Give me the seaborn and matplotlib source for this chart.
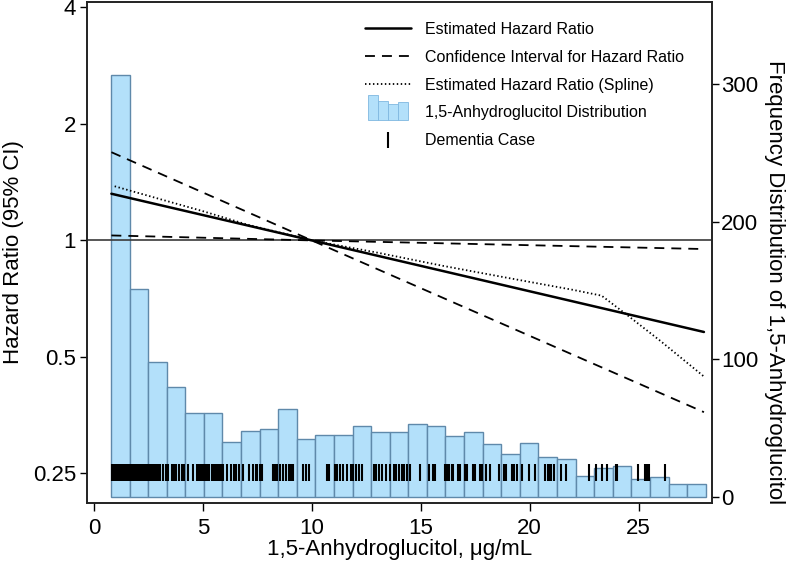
import numpy as np
import pandas as pd
import seaborn as sns
import matplotlib
matplotlib.use("Agg")
import matplotlib.pyplot as plt
from matplotlib.lines import Line2D
from matplotlib.patches import Rectangle
from matplotlib.legend_handler import HandlerBase
from matplotlib.ticker import NullLocator

# histogram of 1,5-AG (32 bins)
bin_lo, bin_hi = 0.78, 28.08
counts = [307, 151, 98, 80, 61, 61, 40, 48, 49, 64, 42, 45, 45, 51, 47, 47,
          53, 51, 44, 47, 38, 31, 39, 29, 27, 15, 21, 22, 13, 14, 9, 9]

# hazard ratio lines (log-linear)
hr_x = [0.8, 10, 28]
hr = [1.32, 1.0, 0.58]
ci_a = [1.69, 1.0, 0.36]
ci_b = [1.03, 1.0, 0.95]

spline_x = [0.95, 3, 5, 7, 10, 13, 16, 19, 22, 23.3, 24.5, 26, 28]
spline_hr = [1.38, 1.28, 1.19, 1.10, 1.0, 0.93, 0.86, 0.80, 0.745, 0.72, 0.64, 0.55, 0.445]

# dementia cases
rug_x = [0.82, 0.87, 0.92, 0.97, 1.02, 1.07, 1.12, 1.17, 1.22, 1.27, 1.32, 1.37, 1.42,
         1.47, 1.52, 1.57, 1.62, 1.67, 1.72, 1.78, 1.84, 1.9, 1.96, 2.02, 2.08, 2.14,
         2.2, 2.26, 2.33, 2.4, 2.47, 2.54, 2.61, 2.68, 2.75, 2.82, 2.9, 2.97, 3.03,
         3.17, 3.3, 3.42, 3.6, 3.68, 3.78, 3.9, 4.05, 4.15, 4.3, 4.55, 4.72, 4.8, 4.88,
         4.98, 5.06, 5.14, 5.22, 5.3, 5.4, 5.47, 5.54, 5.62, 5.7, 5.78, 5.86, 5.93, 6.1,
         6.3, 6.42, 6.5, 6.68, 6.86, 7.1, 7.3, 7.42, 7.5, 7.6, 7.72,
         8.2, 8.3, 8.42, 8.55, 8.68, 8.8, 8.95, 9.05, 9.15, 9.6, 9.72, 9.88,
         10.7, 10.8, 11.05, 11.15, 11.3, 11.42, 11.62, 11.8, 11.9, 12.02, 12.15, 12.3,
         12.85, 12.95, 13.1, 13.22, 13.4, 13.58, 13.75, 13.88, 14.02, 14.12, 14.25,
         14.38, 14.5, 14.97, 15.38, 15.58, 15.65, 16.12, 16.2, 16.3, 16.42, 16.5, 16.72,
         16.8, 17.05, 17.12, 17.42, 17.48, 17.72, 17.8, 18.0, 18.2, 18.57, 18.82, 18.9,
         19.2, 19.28, 19.42, 19.64, 19.95, 20.26, 20.72, 20.82, 20.9, 21.0, 21.1, 21.42,
         21.65, 22.71, 23.05, 23.3, 23.55, 23.97, 24.02, 24.97, 25.28, 25.38, 25.46, 26.2]

bar_face = "#b3e0fa"
bar_edge = "#5f89aa"

sns.set_theme(style="ticks")
plt.rcParams["font.family"] = ["Liberation Sans", "DejaVu Sans"]
plt.rcParams["text.color"] = "black"
plt.rcParams["axes.labelcolor"] = "black"
plt.rcParams["xtick.color"] = "black"
plt.rcParams["ytick.color"] = "black"


class HistHandler(HandlerBase):
    def create_artists(self, legend, orig_handle, xdescent, ydescent,
                       width, height, fontsize, trans):
        fracs = [1.0, 0.78, 0.63, 0.72]
        bw = (width - 5) / 4
        y0 = -ydescent + height / 2 - 6
        arts = []
        for i, f in enumerate(fracs):
            r = Rectangle((-xdescent + 2.5 + i * bw, y0), bw, 18 * f,
                          facecolor=bar_face, edgecolor="#7fb7e0", lw=0.6,
                          transform=trans)
            arts.append(r)
        return arts


fig = plt.figure(figsize=(7.89, 5.62), dpi=100)
ax = fig.add_axes([87 / 789, 59 / 562, 625 / 789, 501 / 562])
ax2 = ax.twinx()

edges = np.linspace(bin_lo, bin_hi, len(counts) + 1)
hist_df = pd.DataFrame({"x": (edges[:-1] + edges[1:]) / 2, "n": counts})
sns.histplot(data=hist_df, x="x", weights="n", bins=edges.tolist(), ax=ax2,
             color=bar_face, edgecolor=bar_edge, alpha=1, linewidth=1)
ax2.set_ylim(-4.7, 359.8)
ax2.set_yticks([0, 100, 200, 300])
ax2.set_ylabel("Frequency Distribution of 1,5-Anhydroglucitol", rotation=270,
               va="bottom", fontsize=16, labelpad=4)
ax2.yaxis.label.set_y(0.44)

ax.set_zorder(ax2.get_zorder() + 1)
ax.patch.set_visible(False)

ax.set_yscale("log", base=2)
ax.axhline(1, color="#3a3a3a", lw=1.2)
sns.lineplot(x=hr_x, y=hr, ax=ax, color="black", lw=1.8)
sns.lineplot(x=hr_x, y=ci_a, ax=ax, color="black", lw=1.3, linestyle=(0, (5.5, 3.9)))
sns.lineplot(x=hr_x, y=ci_b, ax=ax, color="black", lw=1.3, linestyle=(0, (5.5, 3.9)))
sns.lineplot(x=spline_x, y=spline_hr, ax=ax, color="black", lw=1.3,
             linestyle=(0, (0.8, 1.4)))
ax.vlines(rug_x, 0.2389, 0.2647, color="black", lw=1.5)

ax.set_xlim(-0.32, 28.37)
ax.set_ylim(0.2097, 4.13)
ax.set_xticks([0, 5, 10, 15, 20, 25])
ax.set_yticks([0.25, 0.5, 1, 2, 4])
ax.set_yticklabels(["0.25", "0.5", "1", "2", "4"], va="center_baseline")
ax.yaxis.set_minor_locator(NullLocator())
ax.set_xlabel("1,5-Anhydroglucitol, \u03bcg/mL", fontsize=16, labelpad=0)
ax.set_ylabel("Hazard Ratio (95% CI)", fontsize=16, labelpad=6)

ax.tick_params(axis="x", labelsize=16, length=5.5, width=1, pad=5.5)
ax.tick_params(axis="y", labelsize=16, length=5, width=1, pad=3)
ax2.tick_params(axis="y", labelsize=16, length=5, width=1, pad=1.5)
for a in (ax, ax2):
    for s in a.spines.values():
        s.set_color("#222222")
        s.set_linewidth(1.2)

handles = [
    Line2D([], [], color="black", lw=1.8),
    Line2D([], [], color="black", lw=1.3, linestyle=(0, (5.5, 3.9))),
    Line2D([], [], color="black", lw=1.3, linestyle=(0, (0.8, 1.4))),
    Rectangle((0, 0), 1, 1),
    Line2D([], [], color="black", marker="|", markersize=11, mew=1.5, linestyle="none"),
]
labels = ["Estimated Hazard Ratio", "Confidence Interval for Hazard Ratio",
          "Estimated Hazard Ratio (Spline)", "1,5-Anhydroglucitol Distribution",
          "Dementia Case"]
ax.legend(handles, labels, loc="upper left", bbox_to_anchor=(365 / 789, 1 - 22 / 562),
          bbox_transform=fig.transFigure, frameon=False, fontsize=11.5,
          handlelength=2.9, handletextpad=0.85, labelspacing=0.8,
          borderpad=0, borderaxespad=0,
          handler_map={Rectangle: HistHandler()})

fig.savefig("out.png", dpi=100)
